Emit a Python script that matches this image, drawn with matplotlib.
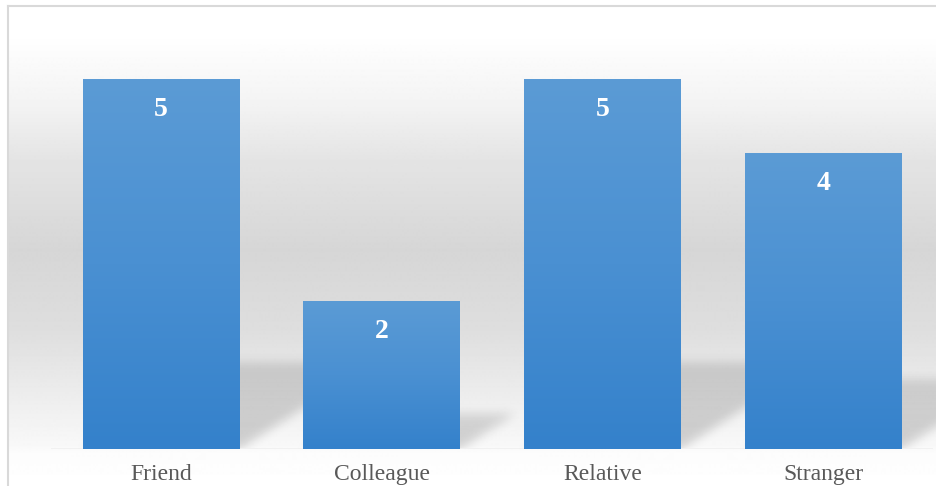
import numpy as np
import matplotlib
matplotlib.use("Agg")
import matplotlib.pyplot as plt
from matplotlib.colors import LinearSegmentedColormap

plt.rcParams['font.family'] = ['Liberation Serif', 'DejaVu Serif']

categorias = ["Friend", "Colleague", "Relative", "Stranger"]
valores = [5, 2, 5, 4]

W, H, DPI = 936, 486, 100
fig = plt.figure(figsize=(W / DPI, H / DPI), dpi=DPI)

# fondo con degradado vertical y marco gris claro
ax_bg = fig.add_axes([0, 0, 1, 1])
ax_bg.set_axis_off()
filas = np.arange(H)
gris = np.interp(filas,
                 [0, 40, 100, 160, 250, 330, 400, 445, 452, 486],
                 [255, 254, 244, 228, 214, 222, 238, 248, 252, 255]) / 255
fondo = np.repeat(gris[:, None], 2, axis=1)
ax_bg.imshow(fondo, cmap='gray', vmin=0, vmax=1, aspect='auto', extent=[0, 1, 0, 1])
ax_bg.fill_between([0, 1], 1 - 6 / H, 1, color='white', lw=0)
ax_bg.fill_between([0, 8 / W], 0, 1, color='white', lw=0)
ax_bg.plot([8 / W, 1], [1 - 6 / H] * 2, color='#d9d9d9', lw=1.5)
ax_bg.plot([8 / W] * 2, [0, 1 - 6 / H], color='#d9d9d9', lw=1.5)
ax_bg.set_xlim(0, 1)
ax_bg.set_ylim(0, 1)

# ejes principales
ytop = 5.8
ax = fig.add_axes([50.7 / W, 37 / H, 882.7 / W, ytop * 73.8 / H])
ax.patch.set_visible(False)
for sp in ax.spines.values():
    sp.set_visible(False)

x = np.arange(len(categorias))
ancho = 0.711
barras = ax.bar(x, valores, width=ancho, color='none', zorder=3)

# degradado azul de cada barra
azul = LinearSegmentedColormap.from_list('azul', ['#3481cb', '#4a90d2', '#5b9bd5'])
grad = np.linspace(0, 1, 256)[:, None]
for b in barras:
    x0, y0 = b.get_x(), b.get_y()
    ax.imshow(grad, cmap=azul, origin='lower', aspect='auto', zorder=3,
              extent=[x0, x0 + b.get_width(), y0, y0 + b.get_height()])

# sombras proyectadas sobre el suelo, difuminadas
k = 0.52
s = 0.235
ny, nx = 150, 900
xs = np.linspace(-0.5, 3.6, nx)
ys = np.linspace(0, 2.0, ny)
X, Y = np.meshgrid(xs, ys)
sombra = np.zeros_like(X)
for xi, h in zip(x, valores):
    alto = s * h
    dentro = (Y <= alto) & (X >= xi - ancho / 2 + k * Y) & (X <= xi + ancho / 2 + k * Y)
    sombra = np.maximum(sombra, dentro * (1 - 0.25 * Y / alto))
t = np.arange(-15, 16)
g = np.exp(-t ** 2 / (2 * 5.0 ** 2))
g /= g.sum()
sombra = np.apply_along_axis(lambda r: np.convolve(r, g, mode='same'), 1, sombra)
sombra = np.apply_along_axis(lambda c: np.convolve(c, g, mode='same'), 0, sombra)
rgba = np.zeros((ny, nx, 4))
rgba[..., 3] = sombra * 0.17
ax.imshow(rgba, origin='lower', aspect='auto', extent=[-0.5, 3.6, 0, 2.0],
          zorder=2, clip_on=False)

ax.axhline(0, color='#f0f0f0', lw=2, zorder=2.5)

# etiquetas de valor
for b, v in zip(barras, valores):
    ax.annotate(str(v), (b.get_x() + b.get_width() / 2, v), xytext=(0, -21.5),
                textcoords='offset points', ha='center', va='center',
                color='white', fontsize=20, fontweight='bold', zorder=5)

ax.set_xlim(-0.5, 3.5)
ax.set_ylim(0, ytop)
ax.set_xticks(x, categorias)
ax.set_yticks([])
ax.tick_params(axis='x', length=0, pad=10.5, labelsize=17, labelcolor='#595959')

fig.savefig('out.png', dpi=DPI)
